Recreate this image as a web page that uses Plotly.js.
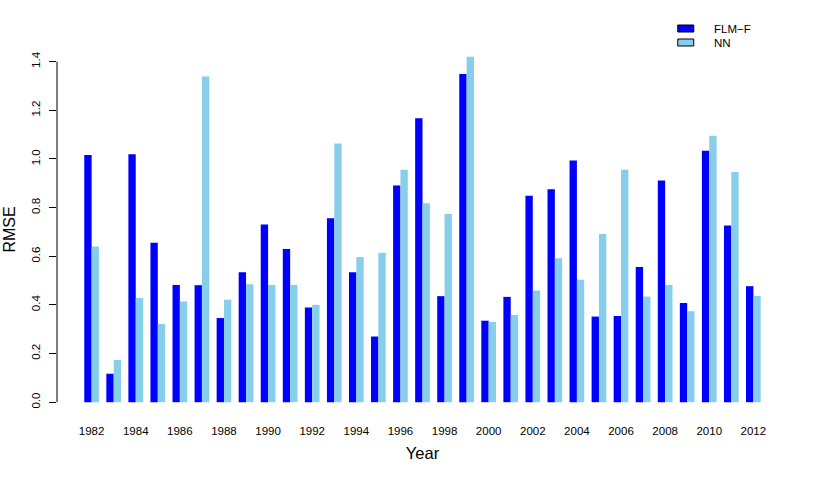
<!DOCTYPE html>
<html>
<head>
<meta charset="utf-8">
<script src="https://cdn.plot.ly/plotly-3.0.1.min.js"></script>
<style>html,body{margin:0;padding:0;background:#fff;}#chart{width:817px;height:478px;}</style>
</head>
<body>
<div id="chart"></div>
<script>
const years = [1982,1983,1984,1985,1986,1987,1988,1989,1990,1991,1992,1993,1994,1995,1996,1997,1998,1999,2000,2001,2002,2003,2004,2005,2006,2007,2008,2009,2010,2011,2012];
const flmF = [1.016,0.117,1.019,0.656,0.482,0.481,0.346,0.534,0.731,0.630,0.389,0.756,0.534,0.270,0.891,1.167,0.436,1.349,0.335,0.433,0.849,0.876,0.994,0.352,0.354,0.556,0.911,0.408,1.034,0.726,0.477];
const nn   = [0.640,0.174,0.428,0.322,0.414,1.339,0.421,0.485,0.482,0.482,0.400,1.064,0.597,0.614,0.956,0.818,0.774,1.420,0.330,0.358,0.459,0.592,0.503,0.692,0.956,0.434,0.482,0.374,1.095,0.946,0.437];
const xTickVals = [1982,1984,1986,1988,1990,1992,1994,1996,1998,2000,2002,2004,2006,2008,2010,2012];
const yTickVals = [0,0.2,0.4,0.6,0.8,1.0,1.2,1.4];
const seriesNames = ["FLM\u2212F","NN"];
const seriesColors = ["#0000FF","#87CEEB"];

const W = 817, H = 478;
const M = {l:57, r:29.3, t:43, b:61.9};
const pw = W - M.l - M.r, ph = H - M.t - M.b;
const px = x => (x - M.l) / pw;
const py = y => (H - M.b - y) / ph;

const FONT = '"Liberation Sans", Arial, Helvetica, sans-serif';

const traces = [
  {type:'bar', x:years, y:flmF, name:seriesNames[0], marker:{color:seriesColors[0], line:{width:0}}, showlegend:false},
  {type:'bar', x:years, y:nn, name:seriesNames[1], marker:{color:seriesColors[1], line:{width:0}}, showlegend:false}
];

const shapes = [
  {type:'line', xref:'paper', yref:'y', x0:0, x1:0, y0:yTickVals[0], y1:yTickVals[yTickVals.length-1], line:{color:'#000', width:1}}
];
const annotations = [];
const legY = [28.5, 42.5];
seriesNames.forEach((n,i)=>{
  shapes.push({type:'rect', xref:'paper', yref:'paper', x0:px(677.5), x1:px(693.5), y0:py(legY[i]-3.5), y1:py(legY[i]+3.5), fillcolor:seriesColors[i], line:{color:'#000', width:1}});
  annotations.push({xref:'paper', yref:'paper', x:px(712), y:py(legY[i]), xanchor:'left', yanchor:'middle', text:n, showarrow:false, font:{family:FONT, size:11.5, color:'#000'}});
});

const layout = {
  width:W, height:H,
  margin:M,
  paper_bgcolor:'#fff', plot_bgcolor:'#fff',
  font:{family:FONT, color:'#000'},
  barmode:'group', bargap:1/3, bargroupgap:0,
  showlegend:false,
  xaxis:{
    range:[1980.43, 2013.57], tickvals:xTickVals, ticktext:xTickVals.map(String),
    showline:false, showgrid:false, zeroline:false, ticks:'', tickfont:{size:11.5, family:FONT},
    ticklabelstandoff:6,
    title:{text:'Year', font:{size:16.5, family:FONT}, standoff:11}, automargin:false
  },
  yaxis:{
    range:[-0.0568, 1.4768], tickvals:yTickVals, ticktext:yTickVals.map(v=>v.toFixed(1)),
    showline:false, showgrid:false, zeroline:false, ticks:'outside', ticklen:7, tickwidth:1, tickcolor:'#000',
    tickangle:-90, tickfont:{size:11.5, family:FONT}, ticklabelstandoff:4,
    title:{text:'RMSE', font:{size:16, family:FONT}, standoff:10}, automargin:false
  },
  shapes:shapes,
  annotations:annotations
};

Plotly.newPlot('chart', traces, layout, {displayModeBar:false, staticPlot:true});
</script>
</body>
</html>
